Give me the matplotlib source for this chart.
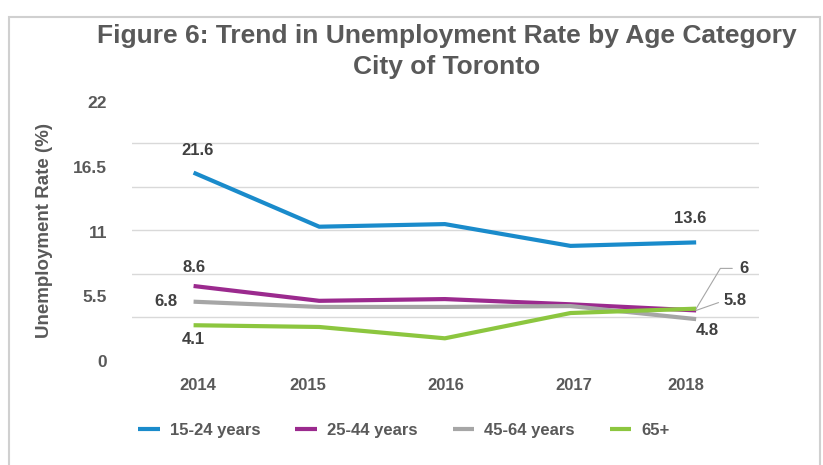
import matplotlib.pyplot as plt
from matplotlib.patches import Rectangle

plt.rcParams["font.family"] = ["Liberation Sans", "DejaVu Sans"]
plt.rcParams["font.weight"] = "bold"

# Data
years = ["2014", "2015", "2016", "2017", "2018"]
age_15_24 = [21.6, 15.4, 15.7, 13.2, 13.6]
age_25_44 = [8.6, 6.9, 7.1, 6.5, 5.8]
age_45_64 = [6.8, 6.2, 6.2, 6.3, 4.8]
age_65 = [4.1, 3.9, 2.6, 5.5, 6.0]

series_names = ["15-24 years", "25-44 years", "45-64 years", "65+"]
colors = ["#1a8bcb", "#9b2a8e", "#a6a6a6", "#8cc63f"]

# axis labels as printed in the source (not aligned with the gridlines)
ytick_text = ["0", "5.5", "11", "16.5", "22"]
ytick_pos = [0, 7.42, 14.84, 22.26, 29.68]
xtick_pos = [0.03, 0.91, 2.01, 3.03, 3.92]
grid_vals = [0, 5, 10, 15, 20, 25]

text_gray = "#595959"
label_dark = "#404040"

fig = plt.figure(figsize=(8.23, 4.65), dpi=100)
ax = fig.add_axes([0.1604, 0.2237, 0.7618, 0.5625])

# frame around the chart
fig.patches.append(Rectangle((9 / 823, -0.1), 811 / 823, 1.1 - 17 / 465,
                             transform=fig.transFigure, fill=False,
                             edgecolor="#d0d0d0", lw=1.5))

x = list(range(len(years)))
all_series = [age_15_24, age_25_44, age_45_64, age_65]
for vals, name, c in zip(all_series, series_names, colors):
    ax.plot(x, vals, color=c, lw=3, label=name, solid_capstyle="butt")

ax.set_xlim(-0.49, 4.5)
ax.set_ylim(0, 30)

ax.set_yticks(grid_vals, minor=True)
ax.set_yticks(ytick_pos, ytick_text)
ax.set_xticks(xtick_pos, years)
ax.grid(axis="y", which="minor", color="#d9d9d9", lw=1)
ax.grid(axis="y", which="major", visible=False)
ax.tick_params(axis="y", which="both", length=0, pad=18, labelsize=12.5,
               labelcolor=text_gray)
ax.tick_params(axis="x", length=0, pad=12, labelsize=12, labelcolor=text_gray)
for s in ax.spines.values():
    s.set_visible(False)

# data labels
lab = dict(fontsize=12, color=label_dark, fontweight="bold",
           textcoords="offset points")
ax.annotate(f"{age_15_24[0]}", (0, age_15_24[0]), xytext=(3, 16), ha="center", va="center", **lab)
ax.annotate(f"{age_15_24[4]}", (4, age_15_24[4]), xytext=(-4, 17), ha="center", va="center", **lab)
ax.annotate(f"{age_25_44[0]}", (0, age_25_44[0]), xytext=(0, 13), ha="center", va="center", **lab)
ax.annotate(f"{age_45_64[0]}", (0, age_45_64[0]), xytext=(-20, 0), ha="center", va="center", **lab)
ax.annotate(f"{age_65[0]}", (0, age_65[0]), xytext=(0, -10), ha="center", va="center", **lab)
ax.annotate(f"{age_45_64[4]:g}", (4, age_45_64[4]), xytext=(8, -8), ha="center", va="center", **lab)
ax.annotate(f"{age_25_44[4]}", (4, age_25_44[4]), xytext=(20, 7), ha="left", va="center",
            arrowprops=dict(arrowstyle="-", color="#a6a6a6", lw=0.8,
                            shrinkA=2, shrinkB=0, relpos=(0, 0.5)), **lab)
ax.annotate(f"{age_65[4]:g}", (4, age_65[4]), xytext=(31, 29), ha="left", va="center",
            arrowprops=dict(arrowstyle="-", color="#a6a6a6", lw=0.8,
                            shrinkA=3, shrinkB=0, relpos=(0, 0.5),
                            connectionstyle="angle,angleA=0,angleB=59,rad=0"), **lab)

fig.text(447 / 823, 1 - 36 / 465, "Figure 6: Trend in Unemployment Rate by Age Category",
         ha="center", va="center", fontsize=19, color=text_gray, fontweight="bold")
fig.text(447 / 823, 1 - 67 / 465, "City of Toronto",
         ha="center", va="center", fontsize=19, color=text_gray, fontweight="bold")
fig.text(45 / 823, 1 - 230 / 465, "Unemployment Rate (%)", rotation=90,
         ha="center", va="center", fontsize=13.5, color=text_gray, fontweight="bold")

leg = fig.legend(loc="center", bbox_to_anchor=(404 / 823, 1 - 430 / 465), ncol=4,
                 frameon=False, fontsize=12, handlelength=1.3, handletextpad=0.6,
                 columnspacing=2.1)
for t in leg.get_texts():
    t.set_color(text_gray)

fig.savefig("out.png", dpi=100)
